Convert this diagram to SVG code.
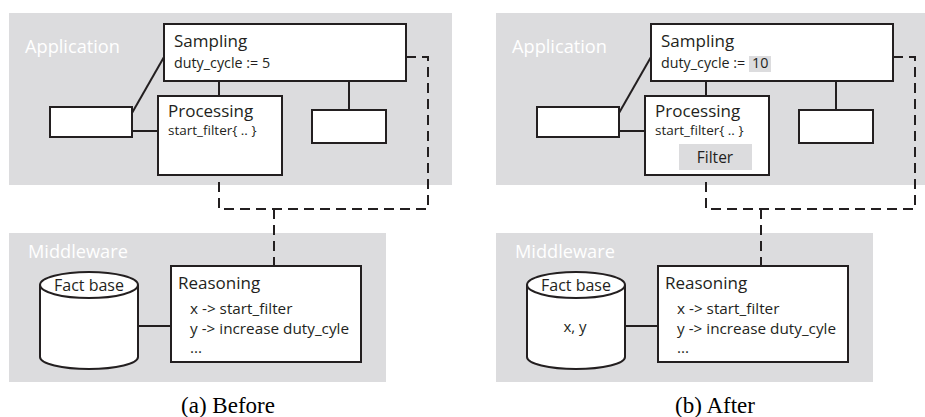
<svg xmlns="http://www.w3.org/2000/svg" width="925" height="417" viewBox="0 0 925 417">
<style>
.layer{fill:#dcdcde;stroke:none}
.box{fill:#fff;stroke:#231f20;stroke-width:2}
.ln{fill:none;stroke:#231f20;stroke-width:2}
.dash{fill:none;stroke:#231f20;stroke-width:2;stroke-dasharray:10 6}
.lt{font-family:"Open Sans","Liberation Sans",sans-serif;fill:#fff;font-size:18.2px}
.t{font-family:"Open Sans","Liberation Sans",sans-serif;fill:#231f20}
.h{font-size:17px}
.s{font-size:13.5px}
.d{font-size:14.3px}
.r{font-size:15.3px}
.hl{fill:#dcdcde}
.cap{font-family:"Liberation Serif","Times New Roman",serif;font-size:23px;fill:#000}
</style>

<!-- Panel (a) -->
<g id="a-application"><rect class="layer" x="9" y="13" width="443" height="172"/><text class="lt" x="25" y="53">Application</text></g>
<g id="a-middleware"><rect class="layer" x="9" y="233" width="377" height="149"/><text class="lt" x="28" y="258">Middleware</text></g>
<g id="a-connectors">
<line class="ln" x1="219" y1="81" x2="219" y2="96"/>
<line class="ln" x1="349" y1="81" x2="349" y2="110"/>
<line class="ln" x1="132" y1="113" x2="164" y2="57"/>
<line class="ln" x1="132" y1="131" x2="158" y2="131"/>
<line class="ln" x1="138" y1="326" x2="171" y2="326"/>
<path class="dash" d="M406,57 H428 V209 H219 V175"/>
<path class="dash" d="M274,209 V266"/>
</g>
<g id="a-sampling"><rect class="box" x="164" y="24" width="242" height="57"/><text class="t h" x="174" y="47">Sampling</text><text class="t d" x="174" y="68">duty_cycle := 5</text></g>
<g id="a-left"><rect class="box" x="50" y="107" width="82" height="30"/></g>
<g id="a-processing"><rect class="box" x="158" y="96" width="124" height="79"/><text class="t h" x="168" y="117">Processing</text><text class="t s" x="168" y="135">start_filter{ .. }</text></g>
<g id="a-right"><rect class="box" x="312" y="110" width="74" height="33"/></g>
<g id="a-factbase"><path class="box" d="M40,285 V357 A49,12 0 0 0 138,357 V285"/><ellipse class="box" cx="89" cy="285" rx="49" ry="13"/><text class="t" x="89" y="291" text-anchor="middle" font-size="16">Fact base</text></g>
<g id="a-reasoning"><rect class="box" x="171" y="266" width="190" height="96"/><text class="t h" x="178" y="289">Reasoning</text><text class="t r" x="190" y="314">x -&gt; start_filter</text><text class="t r" x="190" y="334">y -&gt; increase duty_cyle</text><text class="t r" x="190" y="353">...</text></g>
<text class="cap" x="228" y="413" text-anchor="middle">(a) Before</text>

<!-- Panel (b) -->
<g id="b-application"><rect class="layer" x="496" y="13" width="429" height="172"/><text class="lt" x="512" y="53">Application</text></g>
<g id="b-middleware"><rect class="layer" x="496" y="233" width="377" height="149"/><text class="lt" x="515" y="258">Middleware</text></g>
<g id="b-connectors">
<line class="ln" x1="706" y1="81" x2="706" y2="96"/>
<line class="ln" x1="836" y1="81" x2="836" y2="110"/>
<line class="ln" x1="619" y1="113" x2="651" y2="57"/>
<line class="ln" x1="619" y1="131" x2="645" y2="131"/>
<line class="ln" x1="625" y1="326" x2="658" y2="326"/>
<path class="dash" d="M893,57 H915 V209 H706 V175"/>
<path class="dash" d="M761,209 V266"/>
</g>
<g id="b-sampling"><rect class="box" x="651" y="24" width="242" height="57"/><text class="t h" x="661" y="47">Sampling</text><rect class="hl" x="749" y="56" width="22" height="16"/><text class="t d" x="661" y="68">duty_cycle :=<tspan x="752">10</tspan></text></g>
<g id="b-left"><rect class="box" x="537" y="107" width="82" height="30"/></g>
<g id="b-processing"><rect class="box" x="645" y="96" width="124" height="79"/><text class="t h" x="655" y="117">Processing</text><text class="t s" x="655" y="135">start_filter{ .. }</text><rect class="hl" x="679" y="144" width="73" height="26"/><text class="t" x="715" y="163" text-anchor="middle" font-size="15.5">Filter</text></g>
<g id="b-right"><rect class="box" x="799" y="110" width="74" height="33"/></g>
<g id="b-factbase"><path class="box" d="M527,285 V357 A49,12 0 0 0 625,357 V285"/><ellipse class="box" cx="576" cy="285" rx="49" ry="13"/><text class="t" x="576" y="291" text-anchor="middle" font-size="16">Fact base</text><text class="t" x="575" y="332" text-anchor="middle" font-size="15">x, y</text></g>
<g id="b-reasoning"><rect class="box" x="658" y="266" width="190" height="96"/><text class="t h" x="665" y="289">Reasoning</text><text class="t r" x="677" y="314">x -&gt; start_filter</text><text class="t r" x="677" y="334">y -&gt; increase duty_cyle</text><text class="t r" x="677" y="353">...</text></g>
<text class="cap" x="715" y="413" text-anchor="middle">(b) After</text>
</svg>
